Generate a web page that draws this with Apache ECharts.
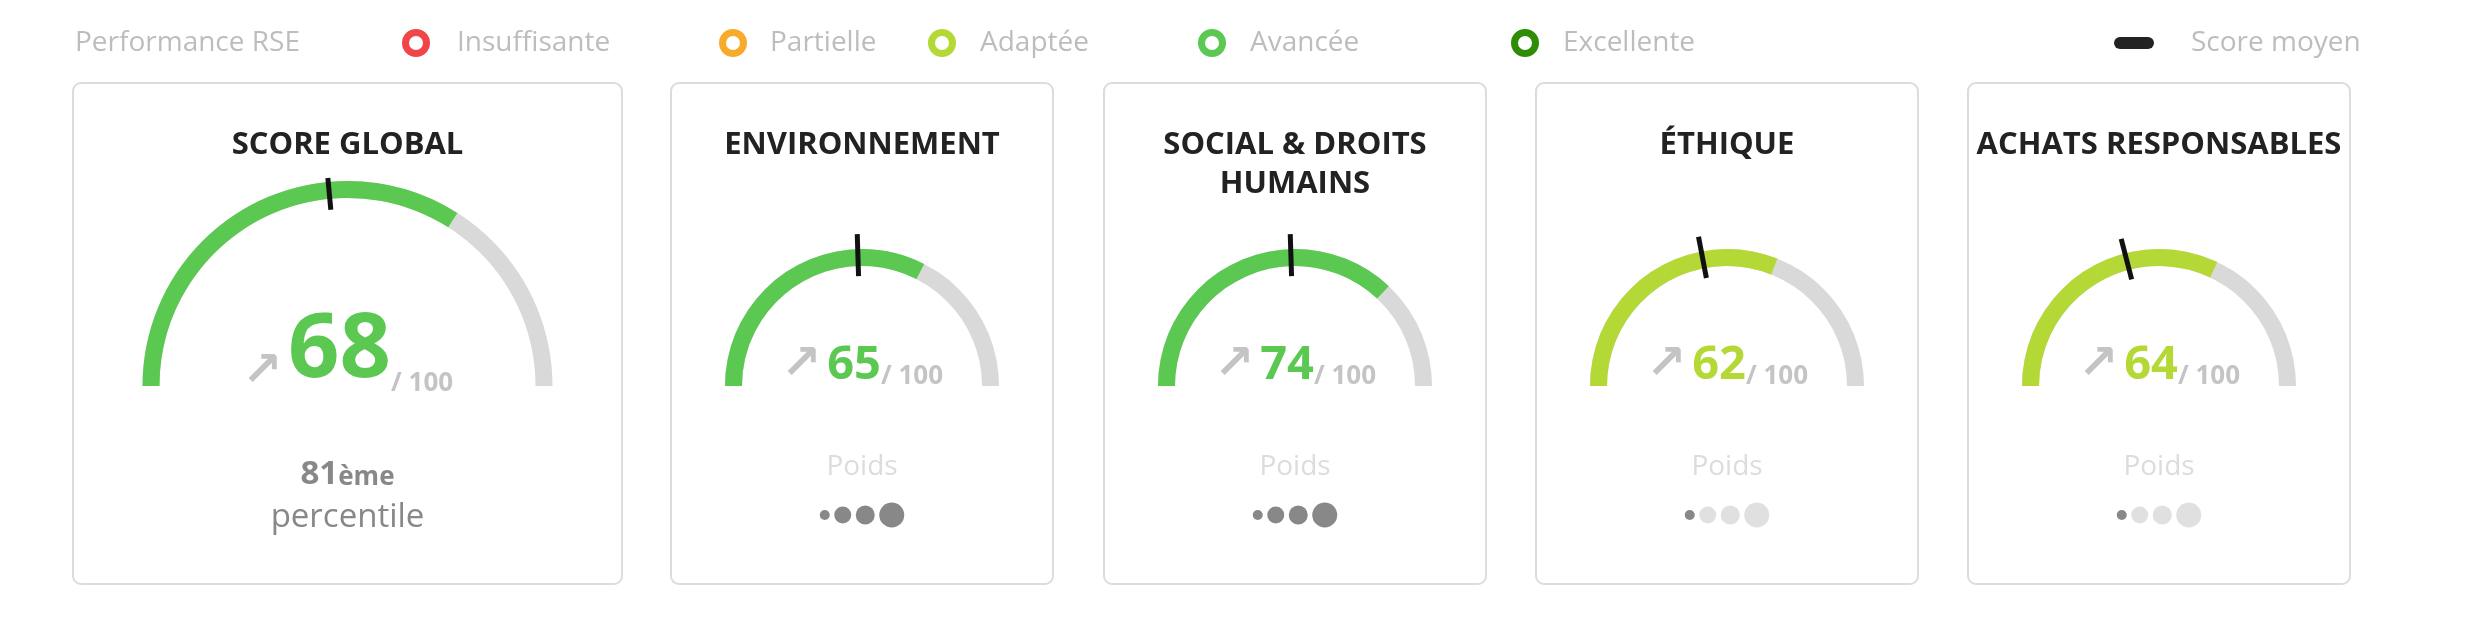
<!DOCTYPE html>
<html>
<head>
<meta charset="utf-8">
<script src="https://cdn.jsdelivr.net/npm/echarts@6/dist/echarts.min.js"></script>
<style>
  html, body { margin: 0; padding: 0; background: #fff; }
  #main { width: 2483px; height: 619px; }
</style>
</head>
<body>
<div id="main"></div>
<script>
// données
const categories = ['SCORE GLOBAL', 'ENVIRONNEMENT', 'SOCIAL & DROITS\nHUMAINS', 'ÉTHIQUE', 'ACHATS RESPONSABLES'];
const scores = [68, 65, 74, 62, 64];
const averageScores = [47, 49, 49, 44, 42];
const scoreLevels = ['Avancée', 'Avancée', 'Avancée', 'Adaptée', 'Adaptée'];
const weights = [null, 4, 4, 1, 1];
const percentileRank = 81;
const legendLevels = ['Insuffisante', 'Partielle', 'Adaptée', 'Avancée', 'Excellente'];
const levelColors = ['#f0464a', '#f8ab2b', '#b4d836', '#5bc852', '#2f8c06'];

const FONT = '"Open Sans", "Noto Sans", sans-serif';
const GREY_TXT = '#c4c4c4';

// mise en page des cartes
const cards = [
  { x: 73,   w: 549, r: 205, valueSize: 90, baseline: 379, tickIn: 11, tickOut: 4 },
  { x: 671,  w: 382, r: 137, valueSize: 47, baseline: 380, tickIn: 10, tickOut: 15 },
  { x: 1104, w: 382, r: 137, valueSize: 47, baseline: 380, tickIn: 10, tickOut: 15 },
  { x: 1536, w: 382, r: 137, valueSize: 47, baseline: 380, tickIn: 10, tickOut: 15 },
  { x: 1968, w: 382, r: 137, valueSize: 47, baseline: 380, tickIn: 10, tickOut: 15 }
];
const CARD_Y = 83, CARD_H = 501;
const GAUGE_Y = 386, ARC_W = 17;
const dotSizes = [10, 17, 19, 25];

const chart = echarts.init(document.getElementById('main'));

const series = [];
const graphic = [];

cards.forEach((c, i) => {
  const cx = c.x + c.w / 2;
  const color = levelColors[legendLevels.indexOf(scoreLevels[i])];
  const vs = c.valueSize;
  const shift = 0.19 * vs;
  const twoLines = categories[i].indexOf('\n') >= 0;

  graphic.push({
    type: 'rect',
    shape: { x: c.x, y: CARD_Y, width: c.w, height: CARD_H, r: 8 },
    style: { fill: '#fff', stroke: '#dcdcdc', lineWidth: 2 }
  });

  // jauge du score
  series.push({
    type: 'gauge',
    center: [cx, GAUGE_Y],
    radius: c.r,
    startAngle: 180,
    endAngle: 0,
    min: 0,
    max: 100,
    axisLine: { lineStyle: { width: ARC_W, color: [[1, '#dad9d9']] } },
    progress: { show: true, width: ARC_W, itemStyle: { color: color } },
    pointer: { show: false },
    anchor: { show: false },
    axisTick: { show: false },
    splitLine: { show: false },
    axisLabel: { show: false },
    title: {
      offsetCenter: [0, twoLines ? -221.5 : -241],
      fontFamily: FONT, fontSize: 31, fontWeight: 'bold', color: '#222', lineHeight: 39
    },
    detail: {
      offsetCenter: [0, c.baseline - 0.31 * vs - GAUGE_Y],
      valueAnimation: false,
      formatter: v => '{a|↗}{v|' + v + '}{u|/ 100}',
      rich: {
        a: { fontFamily: 'DejaVu Sans', fontWeight: 'bold', fontSize: 48, color: GREY_TXT,
             verticalAlign: 'bottom', lineHeight: 2 * (shift + 15), padding: [0, 6, 0, 0] },
        v: { fontFamily: FONT, fontWeight: 'bold', fontSize: vs, color: color,
             verticalAlign: 'bottom', lineHeight: vs },
        u: { fontFamily: FONT, fontWeight: 'bold', fontSize: 26, color: GREY_TXT,
             verticalAlign: 'bottom', lineHeight: 2 * (0.31 * 26 + shift) }
      }
    },
    data: [{ value: scores[i], name: categories[i] }]
  });

  // repère du score moyen
  series.push({
    type: 'gauge',
    center: [cx, GAUGE_Y],
    radius: c.r,
    startAngle: 180,
    endAngle: 0,
    min: 0,
    max: 100,
    z: 5,
    axisLine: { show: false },
    progress: { show: false },
    pointer: {
      icon: 'rect',
      width: 5,
      length: ARC_W + c.tickIn + c.tickOut,
      offsetCenter: [0, -(c.r - ARC_W - c.tickIn)],
      itemStyle: { color: '#111' }
    },
    anchor: { show: false },
    axisTick: { show: false },
    splitLine: { show: false },
    axisLabel: { show: false },
    title: { show: false },
    detail: { show: false },
    data: [{ value: averageScores[i] }]
  });

  if (weights[i] == null) {
    graphic.push({
      type: 'text',
      style: {
        x: cx, y: 473, align: 'center', verticalAlign: 'middle',
        text: '{n|' + percentileRank + '}{s|ème}',
        rich: {
          n: { fontFamily: FONT, fontWeight: 'bold', fontSize: 33, fill: '#888', verticalAlign: 'bottom', lineHeight: 36 },
          s: { fontFamily: FONT, fontWeight: 'bold', fontSize: 26, fill: '#888', verticalAlign: 'bottom', lineHeight: 30 }
        }
      }
    });
    graphic.push({
      type: 'text',
      style: {
        x: cx, y: 518, align: 'center', verticalAlign: 'middle',
        text: 'percentile', font: '33px ' + FONT, fill: '#888'
      }
    });
  } else {
    graphic.push({
      type: 'text',
      style: {
        x: cx, y: 467, align: 'center', verticalAlign: 'middle',
        text: 'Poids', font: '28px ' + FONT, fill: '#dcdcdc'
      }
    });
    const gap = 4.5;
    const total = dotSizes.reduce((s, d) => s + d, 0) + gap * (dotSizes.length - 1);
    let px = cx - total / 2;
    dotSizes.forEach((d, k) => {
      graphic.push({
        type: 'circle',
        shape: { cx: px + d / 2, cy: 515, r: d / 2 },
        style: { fill: k < weights[i] ? '#888' : '#e0e0e0' }
      });
      px += d + gap;
    });
  }
});

// légende
const LEG_Y = 43;
const legendTxt = { font: '28px ' + FONT, fill: '#bdbdbd', verticalAlign: 'middle' };
graphic.push({ type: 'text', style: Object.assign({ x: 75, y: LEG_Y, text: 'Performance RSE' }, legendTxt) });
const ringX = [416, 733, 942, 1212, 1525];
const labelX = [457, 770, 980, 1250, 1563];
legendLevels.forEach((name, k) => {
  graphic.push({
    type: 'circle',
    shape: { cx: ringX[k], cy: LEG_Y, r: 10.5 },
    style: { fill: '#fff', stroke: levelColors[k], lineWidth: 7 }
  });
  graphic.push({ type: 'text', style: Object.assign({ x: labelX[k], y: LEG_Y, text: name }, legendTxt) });
});
graphic.push({
  type: 'rect',
  shape: { x: 2114, y: LEG_Y - 6, width: 40, height: 12, r: 6 },
  style: { fill: '#222' }
});
graphic.push({ type: 'text', style: Object.assign({ x: 2191, y: LEG_Y, text: 'Score moyen' }, legendTxt) });

chart.setOption({
  backgroundColor: '#fff',
  animation: false,
  graphic: graphic,
  series: series
});
</script>
</body>
</html>
